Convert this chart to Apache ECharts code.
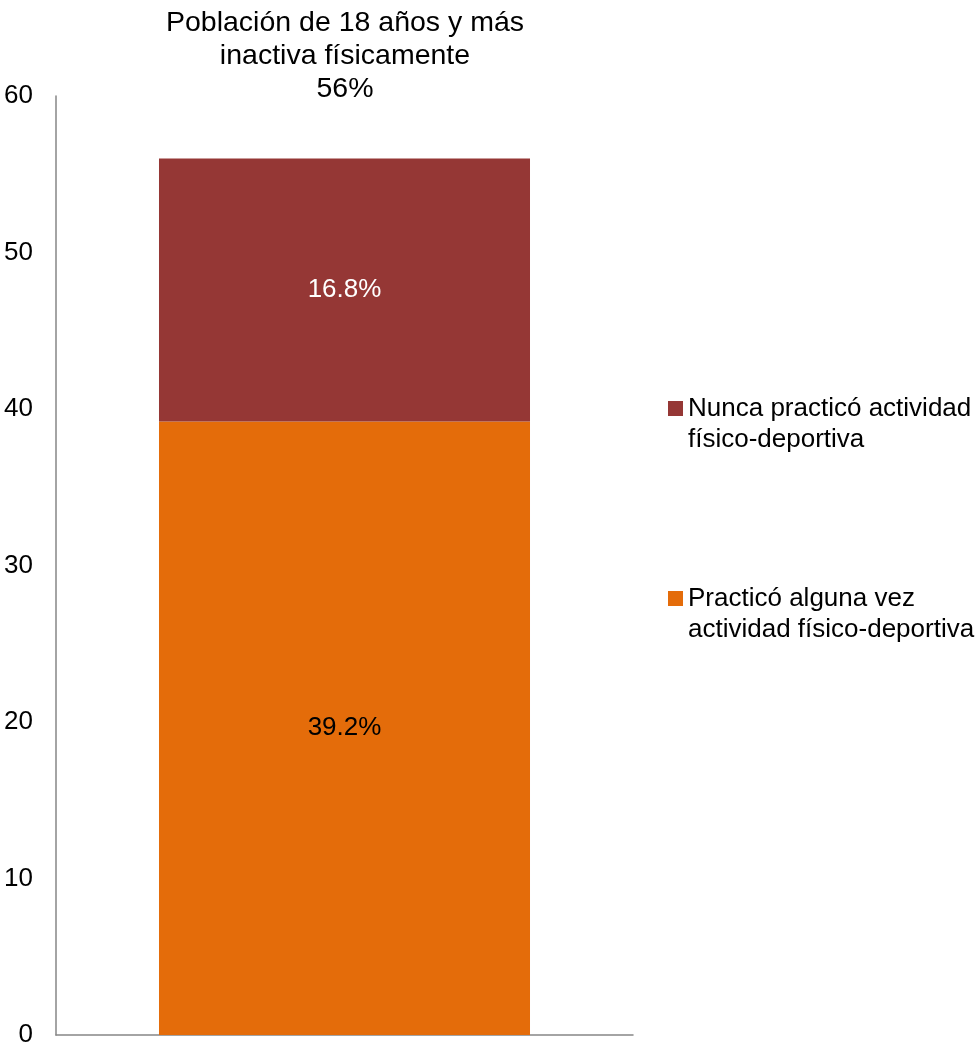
<!DOCTYPE html>
<html>
<head>
<meta charset="utf-8">
<script src="https://cdn.jsdelivr.net/npm/echarts@6/dist/echarts.min.js"></script>
<style>
  html, body { margin: 0; padding: 0; background: #fff; }
  #chart { width: 980px; height: 1048px; }
</style>
</head>
<body>
<div id="chart"></div>
<script>
// Inactive adult population split (percent)
const categories = ['Población de 18 años y más inactiva físicamente'];
const seriesNames = ['Practicó alguna vez\nactividad físico-deportiva', 'Nunca practicó actividad\nfísico-deportiva'];
const practicoValues = [39.2];
const nuncaValues = [16.8];
const totalLabel = '56%';
const yTicks = [0, 10, 20, 30, 40, 50, 60];

const FONT = '"Liberation Sans", Arial, sans-serif';

const chart = echarts.init(document.getElementById('chart'));
chart.setOption({
  animation: false,
  title: {
    text: 'Población de 18 años y más\ninactiva físicamente\n' + totalLabel,
    left: 345,
    top: 7,
    padding: 0,
    textAlign: 'center',
    textStyle: { fontFamily: FONT, fontSize: 28.5, fontWeight: 'normal', color: '#000', lineHeight: 33 }
  },
  legend: {
    orient: 'vertical',
    left: 668,
    top: 362,
    padding: 0,
    itemWidth: 15,
    itemHeight: 15,
    itemGap: 97,
    icon: 'rect',
    data: [seriesNames[1], seriesNames[0]],
    // leading blank line keeps the marker level with the first text line
    formatter: name => '\n' + name,
    textStyle: { fontFamily: FONT, fontSize: 26, color: '#000', lineHeight: 31 }
  },
  grid: { left: 56, right: 347, top: 96, bottom: 13 },
  xAxis: {
    type: 'category',
    data: categories,
    axisLine: { show: true, lineStyle: { color: '#868686', width: 1.5 } },
    axisTick: { show: false },
    axisLabel: { show: false }
  },
  yAxis: {
    type: 'value',
    min: yTicks[0],
    max: yTicks[yTicks.length - 1],
    interval: 10,
    splitLine: { show: false },
    axisTick: { show: false },
    axisLine: { show: true, lineStyle: { color: '#868686', width: 1.5 } },
    axisLabel: { margin: 23, fontFamily: FONT, fontSize: 26, color: '#000' }
  },
  series: [
    {
      name: seriesNames[0],
      type: 'bar',
      stack: 'total',
      barWidth: '64.3%',
      data: practicoValues,
      itemStyle: { color: '#E46C0A' },
      label: { show: true, position: 'inside', formatter: p => p.value.toFixed(1) + '%', fontFamily: FONT, fontSize: 26, color: '#000' }
    },
    {
      name: seriesNames[1],
      type: 'bar',
      stack: 'total',
      data: nuncaValues,
      itemStyle: { color: '#953735' },
      label: { show: true, position: 'inside', formatter: p => p.value.toFixed(1) + '%', fontFamily: FONT, fontSize: 26, color: '#fff' }
    }
  ]
});
</script>
</body>
</html>
